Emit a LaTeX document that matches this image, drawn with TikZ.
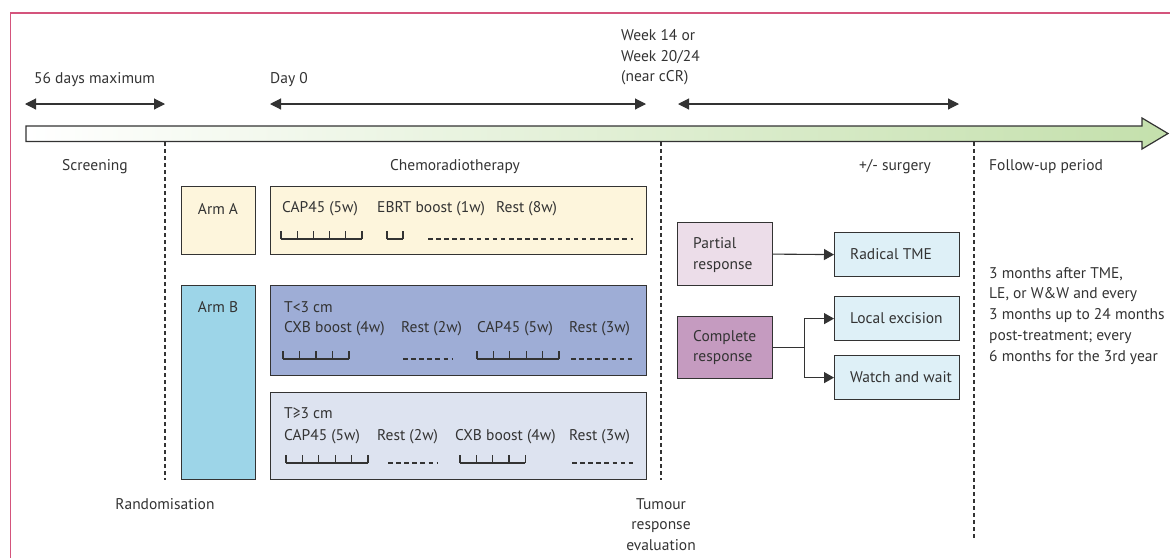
\documentclass[tikz,border=0pt]{standalone}
\usepackage{fontspec}
\setmainfont{PT Sans}
\usetikzlibrary{arrows.meta,calc}

\definecolor{ink}{RGB}{51,51,51}
\definecolor{frame}{RGB}{212,84,124}
\definecolor{tlgreen}{RGB}{196,224,172}
\definecolor{cream}{RGB}{253,245,220}
\definecolor{armb}{RGB}{157,213,232}
\definecolor{small}{RGB}{158,173,214}
\definecolor{large}{RGB}{221,227,240}
\definecolor{partial}{RGB}{236,221,233}
\definecolor{complete}{RGB}{197,155,192}
\definecolor{surg}{RGB}{222,240,247}

\tikzset{
  box/.style={draw=ink, line width=1.2pt, anchor=north west, inner sep=0pt},
  lbl/.style={text=ink, inner sep=0pt},
  lblw/.style={lbl, anchor=west},
  phase/.style={draw=ink, line width=1.1pt, dash pattern=on 4pt off 3pt},
  span/.style={draw=ink, line width=1.1pt, {Triangle[length=11pt,width=11pt]}-{Triangle[length=11pt,width=11pt]}},
  link/.style={draw=ink, line width=1.1pt, -{Triangle[length=10pt,width=11pt]}},
  tickline/.style={draw=ink, line width=1.3pt},
  restline/.style={draw=ink, line width=1.2pt, dash pattern=on 4.5pt off 3.6pt},
}

% week scale: start x, baseline y, number of weeks, week width
\newcommand\weekbar[4]{%
  \draw[tickline] (#1,#2) -- ({#1+#3*#4},#2);
  \foreach \k in {0,...,#3} \draw[tickline] ({#1+\k*#4},#2) -- ({#1+\k*#4},{#2-8});
}
% rest period: start x, end x, baseline y
\newcommand\restbar[3]{\draw[restline] (#1,#3) -- (#2,#3);}

\begin{document}
\begin{tikzpicture}[x=1pt, y=-1pt, font=\fontsize{15.5}{20.8}\selectfont]
\useasboundingbox (0,0) rectangle (1170,558);

% frame lines
\draw[frame, line width=1.4pt] (10.5,558) -- (10.5,13) -- (1170,13);

% timeline arrow
\path[draw=ink, line width=1.2pt, left color=white, right color=tlgreen]
  (26,126) -- (1142,126) -- (1142,118) -- (1168,133.5) -- (1142,149)
  -- (1142,141.5) -- (26,141.5) -- cycle;

% spans above the timeline
\coordinate (s1a) at (25,104);  \coordinate (s1b) at (165,104);
\coordinate (s2a) at (270,104); \coordinate (s2b) at (646,104);
\coordinate (s3a) at (678,104); \coordinate (s3b) at (959,104);
\draw[span] (s1a) -- (s1b);
\draw[span] (s2a) -- (s2b);
\draw[span] (s3a) -- (s3b);
\node[lblw] (t56) at (34,80) {56 days maximum};
\node[lblw] (tday0) at (270,80) {Day 0};
\node[lbl, anchor=north west, align=left] (tweek) at (621,29) {Week 14 or\\Week 20/24\\(near cCR)};

% phase separators
\coordinate (p1t) at (165,142); \coordinate (p1b) at (165,480);
\coordinate (p2t) at (661,142); \coordinate (p2b) at (661,480);
\coordinate (p3t) at (974,142); \coordinate (p3b) at (974,540);
\draw[phase] (p1t) -- (p1b);
\draw[phase] (p2t) -- (p2b);
\draw[phase] (p3t) -- (p3b);

% phase names
\node[lbl] (screen) at (95,167) {Screening};
\node[lbl] (crt) at (455,167) {Chemoradiotherapy};
\node[lbl] (surgery) at (895,167) {+/- surgery};
\node[lblw] (follow) at (989,167) {Follow-up period};
\node[lbl] (rand) at (165,504) {Randomisation};
\node[lbl, anchor=north, align=center] (eval) at (661,498) {Tumour\\response\\evaluation};

% arm A
\node[box, fill=cream, minimum width=74pt, minimum height=68pt] (armA) at (181,186) {};
\node[lbl] (armAt) at (218,209) {Arm A};
\node[box, fill=cream, minimum width=376pt, minimum height=68pt] (regA) at (270,186) {};
\node[lblw] (a1) at (282,209) {CAP45 (5w)};
\node[lblw] (a2) at (377,209) {EBRT boost (1w)};
\node[lblw] (a3) at (496,209) {Rest (8w)};
\weekbar{281}{239}{5}{16.2}
\weekbar{387}{239}{1}{16}
\restbar{428}{633}{239}

% arm B
\node[box, fill=armb, minimum width=74pt, minimum height=194pt] (armB) at (181,285) {};
\node[lbl] (armBt) at (218,307) {Arm B};

\node[box, fill=small, minimum width=376pt, minimum height=90pt] (regB1) at (270,285) {};
\node[lblw] (b1h) at (284,307) {T<3 cm};
\node[lblw] (b11) at (284,329) {CXB boost (4w)};
\node[lblw] (b12) at (401,329) {Rest (2w)};
\node[lblw] (b13) at (477,329) {CAP45 (5w)};
\node[lblw] (b14) at (569,329) {Rest (3w)};
\weekbar{283}{359}{4}{16.5}
\restbar{403}{452}{359}
\weekbar{477}{359}{5}{16.4}
\restbar{571}{635}{359}

\node[box, fill=large, minimum width=376pt, minimum height=87pt] (regB2) at (270,392) {};
\node[lblw] (b2h) at (284,413) {T≥3 cm};
\node[lblw] (b21) at (284,437) {CAP45 (5w)};
\node[lblw] (b22) at (377,437) {Rest (2w)};
\node[lblw] (b23) at (455,437) {CXB boost (4w)};
\node[lblw] (b24) at (569,437) {Rest (3w)};
\weekbar{286}{463}{5}{16.4}
\restbar{388}{437}{463}
\weekbar{460}{463}{4}{16.3}
\restbar{572}{635}{463}

% responses and surgery
\node[box, fill=partial, minimum width=95pt, minimum height=63pt] (partial) at (677,222) {};
\node[lbl, anchor=west, align=left] (partialt) at (693,255) {Partial\\response};
\node[box, fill=complete, minimum width=95pt, minimum height=62pt] (complete) at (677,316) {};
\node[lbl, anchor=west, align=left] (completet) at (693,347.5) {Complete\\response};

\node[box, fill=surg, minimum width=125pt, minimum height=44pt] (radical) at (834,232) {};
\node[lblw] (radicalt) at (850,254) {Radical TME};
\node[box, fill=surg, minimum width=125pt, minimum height=44pt] (local) at (834,296) {};
\node[lblw] (localt) at (850,318) {Local excision};
\node[box, fill=surg, minimum width=125pt, minimum height=44pt] (watch) at (834,355) {};
\node[lblw] (watcht) at (850,377) {Watch and wait};

\draw[link] (partial.east) -- (radical.west);
\coordinate (split) at ($(complete.east)+(31,0)$);
\draw[draw=ink, line width=1.1pt] (complete.east) -- (split);
\draw[link] (split) |- (local.west);
\draw[link] (split) |- (watch.west);

% follow-up schedule
\node[lbl, anchor=north west, align=left] (sched) at (989,267) {3 months after TME,\\LE, or W\&W and every\\3 months up to 24 months\\post-treatment; every\\6 months for the 3rd year};
\end{tikzpicture}
\end{document}
